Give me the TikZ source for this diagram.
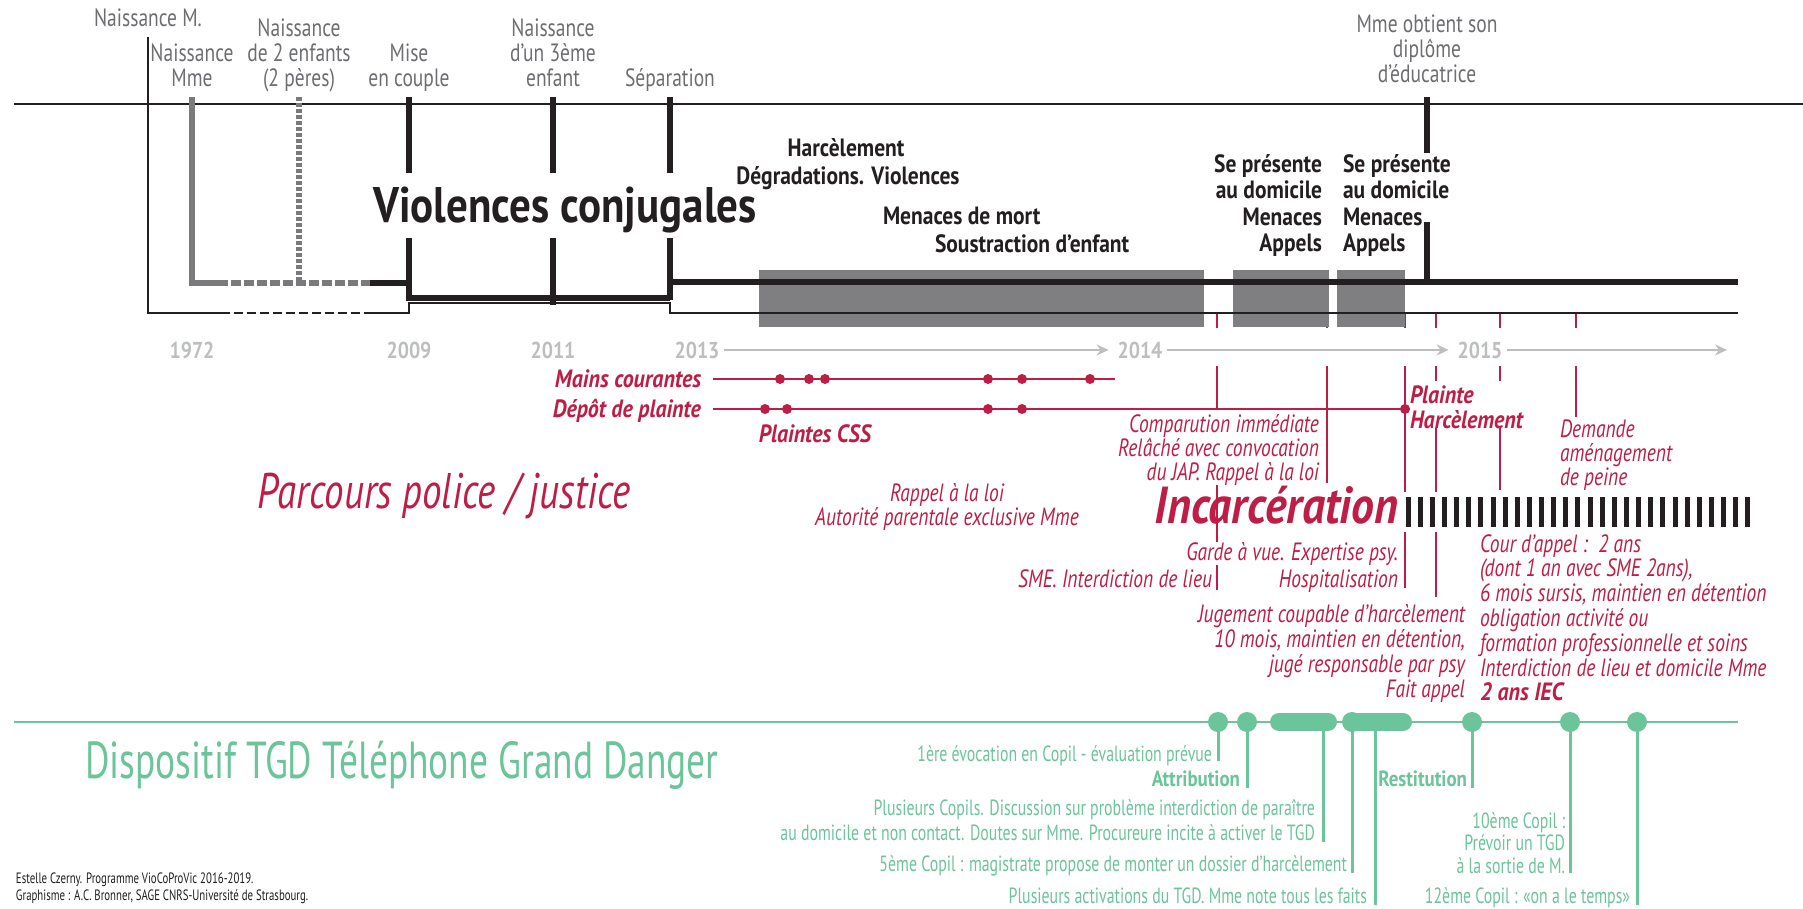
\documentclass[tikz,border=0pt]{standalone}
\usepackage{fontspec}
\setmainfont{PT Sans}[FakeStretch=0.78, BoldFeatures={FakeStretch=0.86}, BoldItalicFeatures={FakeStretch=0.88}]
\newfontfamily\gfont{PT Sans}[FakeStretch=0.72, BoldFeatures={FakeStretch=0.86}]
\newfontfamily\ffont{PT Sans}[FakeStretch=0.72]
\usetikzlibrary{arrows.meta}
\definecolor{lblgrey}{HTML}{6D6E71}
\definecolor{yrgrey}{HTML}{BCBEC0}
\definecolor{ink}{HTML}{231F20}
\definecolor{boxgrey}{HTML}{7F7E80}
\definecolor{mgrey}{HTML}{7A7A7C}
\definecolor{jred}{HTML}{BE1E45}
\definecolor{tgd}{HTML}{6CC49B}
\setlength{\lineskiplimit}{-100pt}
\newcommand{\fsz}[2]{\fontsize{#1}{#2}\selectfont}
\newcommand{\tst}{\rule{0pt}{0.88em}}
\begin{document}
\begin{tikzpicture}[x=1pt,y=-1pt,
  every node/.style={inner sep=0pt, outer sep=0pt},
  glbl/.style={font=\fsz{25}{25}, text=lblgrey},
  yr/.style={font=\fsz{23}{23}\bfseries, text=yrgrey, anchor=base},
  bk/.style={font=\fsz{25}{26}\bfseries, text=ink},
  rd/.style={font=\fsz{25}{24.5}\itshape, text=jred},
  rdb/.style={font=\fsz{25}{25}\bfseries\itshape, text=jred},
  gr/.style={font=\gfont\fsz{22}{25}, text=tgd},
  grb/.style={font=\gfont\fsz{22}{25}\bfseries, text=tgd},
  thinl/.style={draw=ink, line width=1.2pt},
  blk/.style={draw=ink, line width=6pt},
  mgl/.style={draw=mgrey, line width=5.5pt},
  rl/.style={draw=jred, line width=1.5pt},
  gl/.style={draw=tgd, line width=2.2pt},
  gstem/.style={draw=tgd, line width=3pt},
  yrarrow/.style={draw=yrgrey, line width=1.6pt, -{Stealth[length=12pt,width=11pt,inset=4pt]}}
]
\fill[white] (0,0) rectangle (1803,909);
\useasboundingbox (0,0) rectangle (1803,909);

% ---------- red vertical lines (drawn first, masked later)
\draw[rl] (1217,313) -- (1217,590);
\draw[rl] (1327,313) -- (1327,483);
\draw[rl] (1405,313) -- (1405,588);
\draw[rl] (1436,313) -- (1436,597);
\draw[rl] (1500,313) -- (1500,490);
\draw[rl] (1576,313) -- (1576,417);
\fill[white] (700,328) rectangle (1803,366);

% ---------- top area
\draw[thinl] (14,104) -- (1803,104);
\fill[boxgrey] (759,270) rectangle (1204,327);
\fill[boxgrey] (1233,270) rectangle (1329,327);
\fill[boxgrey] (1337,270) rectangle (1405,327);

\draw[thinl] (148,37) -- (148,313) -- (230,313);
\draw[thinl, dash pattern=on 9pt off 4pt, dash phase=9pt] (230,313) -- (370,313);
\draw[thinl] (370,313) -- (409,313) -- (409,303) -- (670,303) -- (670,313) -- (1738,313);

\draw[mgl] (192,97) -- (192,283) -- (228,283);
\draw[mgl, dash pattern=on 10pt off 3pt, dash phase=10pt] (228,283) -- (370,283);
\draw[mgl, dash pattern=on 4pt off 2pt] (299,97) -- (299,281);

\draw[blk] (370,283) -- (409,283);
\draw[blk] (409,97) -- (409,173);
\draw[blk] (409,238) -- (409,298) -- (670,298);
\draw[blk] (553,97) -- (553,173);
\draw[blk] (553,238) -- (553,305);
\draw[blk] (670,97) -- (670,173);
\draw[blk] (670,238) -- (670,300);
\draw[blk] (667,282) -- (1738,282);
\draw[blk] (1427,97) -- (1427,153);
\draw[blk] (1427,222) -- (1427,282);

\node[glbl, anchor=base] (nM) at (148,27) {Naissance M.};
\node[glbl, align=center, anchor=north] (nMme) at (192,40) {\tst Naissance\\Mme};
\node[glbl, align=center, anchor=north] (n2e) at (299,15) {\tst Naissance\\de 2 enfants\\(2 pères)};
\node[glbl, align=center, anchor=north] (mise) at (409,40) {\tst Mise\\en couple};
\node[glbl, align=center, anchor=north] (n3e) at (553,15) {\tst Naissance\\d’un 3ème\\enfant};
\node[glbl, anchor=base] (sepa) at (670,87) {Séparation};
\node[glbl, align=center, anchor=north] (dipl) at (1427,11) {\tst Mme obtient son\\diplôme\\d’éducatrice};

\node[font=\fsz{50}{50}\bfseries, text=ink, anchor=base] (vc) at (565,223) {Violences conjugales};
\node[bk, anchor=base] (harc) at (846,157) {Harcèlement};
\node[bk, anchor=base] (degr) at (848,185) {Dégradations. Violences};
\node[bk, anchor=base west] (menm) at (883,225) {Menaces de mort};
\node[bk, anchor=base west] (sous) at (935,253) {Soustraction d’enfant};
\node[bk, align=right, anchor=north east] (sp1) at (1322,151) {\tst Se présente\\au domicile\\Menaces\\Appels};
\node[bk, align=left, anchor=north west] (sp2) at (1343,151) {\tst Se présente\\au domicile\\Menaces\\Appels};

% ---------- years
\node[yr] (y1972) at (192,358) {1972};
\node[yr] (y2009) at (409,358) {2009};
\node[yr] (y2011) at (553,358) {2011};
\node[yr] (y2013) at (697,358) {2013};
\node[yr] (y2014) at (1140,358) {2014};
\node[yr] (y2015) at (1480,358) {2015};
\draw[yrarrow] ([xshift=5pt]y2013.east) -- ([xshift=-9pt]y2014.west);
\draw[yrarrow] ([xshift=5pt]y2014.east) -- ([xshift=-9pt]y2015.west);
\coordinate (yend) at (1727,0);
\draw[yrarrow] ([xshift=5pt]y2015.east) -- (yend |- y2015.east);

% ---------- police / justice
\draw[rl] (713,379) -- (1115,379);
\draw[rl] (713,409) -- (1420,409);
\foreach \x in {780,809,825,988,1022,1090} \fill[jred] (\x,379) circle (5pt);
\foreach \x in {765,787,988,1022,1405} \fill[jred] (\x,409) circle (5pt);

\node[rdb, anchor=base east] (mc) at (701,387) {Mains courantes};
\node[rdb, anchor=base east] (dp) at (701,417) {Dépôt de plainte};
\node[rdb, anchor=base] (pcss) at (815,442) {Plaintes CSS};
\node[font=\fsz{50}{50}\itshape, text=jred, anchor=base west] (parc) at (257,508) {Parcours police / justice};
\node[rd, align=center, anchor=north] (rapp) at (947,479) {\tst Rappel à la loi\\Autorité parentale exclusive Mme};
\node[rd, anchor=base east] (sme) at (1212,587) {SME. Interdiction de lieu};
\node[rd, align=right, anchor=north east, fill=white, font=\fsz{25}{24}\itshape] (comp) at (1319,410) {\tst Comparution immédiate\\Relâché avec convocation\\du JAP. Rappel à la loi};
\node[font=\fsz{52}{52}\bfseries\itshape, text=jred, anchor=base east] (inc) at (1398,523) {Incarcération};
\node[rd, anchor=base east, fill=white] (garde) at (1398,560) {Garde à vue. Expertise psy.};
\node[rd, anchor=base east, fill=white] (hosp) at (1398,587) {Hospitalisation};
\node[rd, align=right, anchor=north east, font=\fsz{25}{25}\itshape] (jug) at (1465,600) {\tst Jugement coupable d’harcèlement\\10 mois, maintien en détention,\\jugé responsable par psy\\Fait appel};
\node[rdb, align=left, anchor=north west, fill=white] (plh) at (1410,381) {\tst Plainte\\Harcèlement};
\node[rd, align=left, anchor=north west, font=\fsz{25}{24}\itshape] (dem) at (1560,415) {\tst Demande\\aménagement\\de peine};
\node[rd, align=left, anchor=north west, font=\fsz{25}{24.8}\itshape] (cour) at (1480,530) {\tst Cour d’appel :~~2 ans\\(dont 1 an avec SME 2ans),\\6 mois sursis, maintien en détention\\obligation activité ou\\formation professionnelle et soins\\Interdiction de lieu et domicile Mme\\\textbf{2 ans IEC}};

\fill[white] (1402,492) rectangle (1753,532);
\foreach \i in {0,...,28} \fill[ink] ({1405.5+\i*12.14},497) rectangle ++(5,30);

% ---------- TGD
\draw[gl] (14,722) -- (1738,722);
\draw[gstem] (1218,722) -- (1218,761);
\draw[gstem] (1247,722) -- (1247,788);
\draw[gstem] (1323,722) -- (1323,842);
\draw[gstem] (1352,722) -- (1352,873);
\draw[gstem] (1375,722) -- (1375,905);
\draw[gstem] (1472,722) -- (1472,788);
\draw[gstem] (1570,722) -- (1570,873);
\draw[gstem] (1637,722) -- (1637,905);
\draw[draw=tgd, line width=18pt, line cap=round] (1279,722) -- (1328,722);
\draw[draw=tgd, line width=18pt, line cap=round] (1352,722) -- (1403,722);
\foreach \x in {1218,1247,1352,1472,1570,1637} \fill[tgd] (\x,722) circle (10pt);

\node[gr, anchor=base east] (g1) at (1212,761) {1ère évocation en Copil - évaluation prévue};
\node[grb, anchor=base east] (g2) at (1240,786) {Attribution};
\node[gr, align=right, anchor=north east] (g3) at (1315,796) {\tst Plusieurs Copils. Discussion sur problème interdiction de paraître\\au domicile et non contact. Doutes sur Mme. Procureure incite à activer le TGD};
\node[gr, anchor=base east] (g4) at (1347,871) {5ème Copil : magistrate propose de monter un dossier d’harcèlement};
\node[gr, anchor=base east] (g5) at (1367,903) {Plusieurs activations du TGD. Mme note tous les faits};
\node[grb, anchor=base east] (g6) at (1467,786) {Restitution};
\node[gr, align=right, anchor=north east, font=\gfont\fsz{22}{22.5}] (g7) at (1565,809) {\tst 10ème Copil :\\Prévoir un TGD\\à la sortie de M.};
\node[gr, anchor=base east] (g8) at (1630,903) {12ème Copil : «on a le temps»};
\node[font=\gfont\fsz{52}{52}, text=tgd, anchor=base west] (disp) at (85,778) {Dispositif TGD Téléphone Grand Danger};

\node[font=\ffont\fsz{15}{17}, text=ink, anchor=base west] (f1) at (16,883) {Estelle Czerny. Programme VioCoProVic 2016-2019.};
\node[font=\ffont\fsz{15}{17}, text=ink, anchor=base west] (f2) at (16,900) {Graphisme : A.C. Bronner, SAGE CNRS-Université de Strasbourg.};
\end{tikzpicture}
\end{document}
